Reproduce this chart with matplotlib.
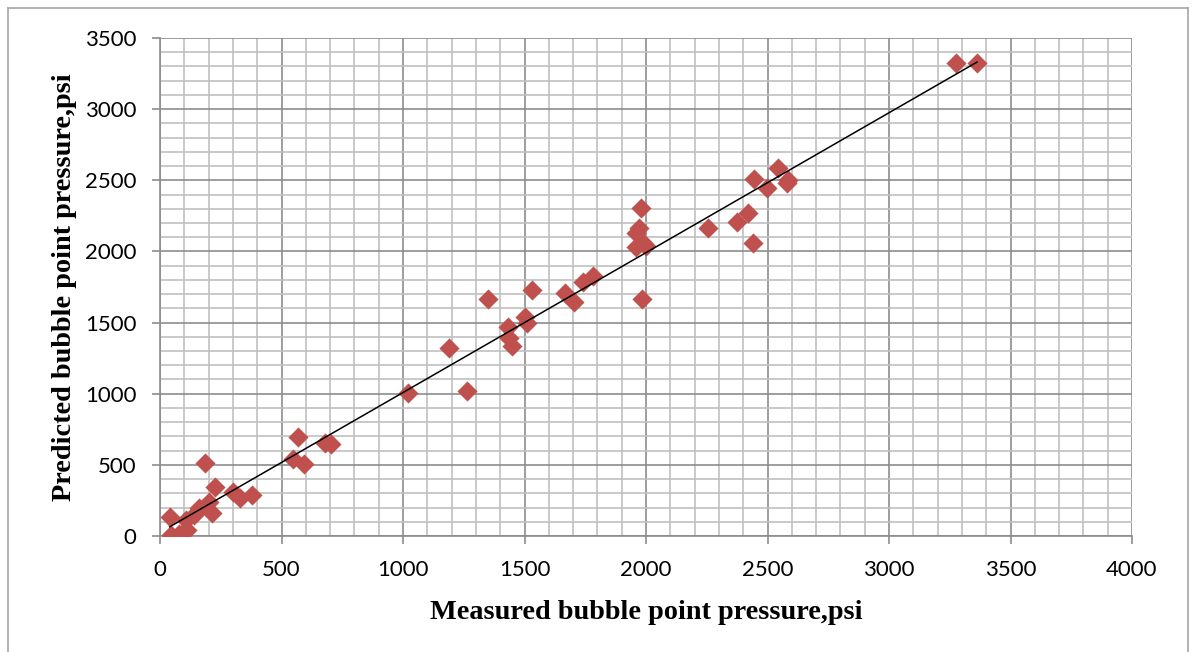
import numpy as np
import matplotlib
matplotlib.use("Agg")
import matplotlib.pyplot as plt
from matplotlib.lines import Line2D
from matplotlib.ticker import MultipleLocator

# measured vs predicted bubble point pressure (psi)
measured = [40, 45, 80, 95, 105, 110, 140, 160, 185, 200, 215, 225, 300, 330, 380,
            547, 568, 593, 679, 704,
            1021, 1189, 1263, 1349, 1432, 1437, 1449, 1502, 1510, 1530,
            1667, 1704, 1741, 1782,
            1959, 1959, 1971, 1979, 1988, 1983, 2000,
            2255, 2374, 2420, 2440, 2444, 2497, 2543, 2580, 2585,
            3276, 3362]
predicted = [135, 5, 15, 20, 110, 40, 150, 200, 510, 240, 160, 345, 310, 270, 290,
             541, 696, 506, 653, 646,
             1005, 1321, 1019, 1666, 1469, 1391, 1335, 1539, 1497, 1729,
             1708, 1644, 1785, 1827,
             2031, 2129, 2164, 2305, 2059, 1666, 2040,
             2164, 2207, 2270, 2059, 2509, 2446, 2586, 2481, 2500,
             3324, 3324]

x_ticks = [0, 500, 1000, 1500, 2000, 2500, 3000, 3500, 4000]
y_ticks = [0, 500, 1000, 1500, 2000, 2500, 3000, 3500]

x = np.array(measured)
y = np.array(predicted)

fig = plt.figure(figsize=(11.95, 6.52), dpi=100)
ax = fig.add_axes([160/1195, 1 - 536/652, (1132-160)/1195, (536-38)/652])

ax.set_xlim(0, 4000)
ax.set_ylim(0, 3500)
ax.set_xticks(x_ticks)
ax.set_yticks(y_ticks)
ax.xaxis.set_minor_locator(MultipleLocator(100))
ax.yaxis.set_minor_locator(MultipleLocator(100))

ax.grid(which="minor", color="#c0c0c0", linewidth=1.2)
ax.grid(which="major", color="#8c8c8c", linewidth=1.2)
ax.set_axisbelow(True)

for s in ["top", "right"]:
    ax.spines[s].set_visible(False)
for s in ["left", "bottom"]:
    ax.spines[s].set_color("#8c8c8c")
    ax.spines[s].set_linewidth(1.2)

ax.tick_params(which="major", length=6, width=1.2, color="#8c8c8c",
               labelsize=16, pad=11)
ax.tick_params(which="minor", length=0)
for lab in ax.get_xticklabels() + ax.get_yticklabels():
    lab.set_fontfamily("Lato")

ax.scatter(x, y, marker="D", s=105, color="#c0504d", zorder=3, linewidths=0)

# linear trendline
k, b = np.polyfit(x, y, 1)
xs = np.array([x.min(), x.max()])
ax.plot(xs, k*xs + b, color="black", linewidth=1.1, zorder=4)

ax.set_xlabel("Measured bubble point pressure,psi", family="Liberation Serif",
              weight="bold", fontsize=20.3, labelpad=15)
ax.set_ylabel("Predicted bubble point pressure,psi", family="Liberation Serif",
              weight="bold", fontsize=20.3, labelpad=6)

# outer chart frame
fc = "#a6a6a6"
fig.add_artist(Line2D([8/1195, 8/1195], [0, 1 - 8/652], color=fc, lw=1.2))
fig.add_artist(Line2D([8/1195, 1188/1195], [1 - 8/652, 1 - 8/652], color=fc, lw=1.2))
fig.add_artist(Line2D([1188/1195, 1188/1195], [0, 1 - 8/652], color=fc, lw=1.2))

fig.savefig("out.png", dpi=100)
